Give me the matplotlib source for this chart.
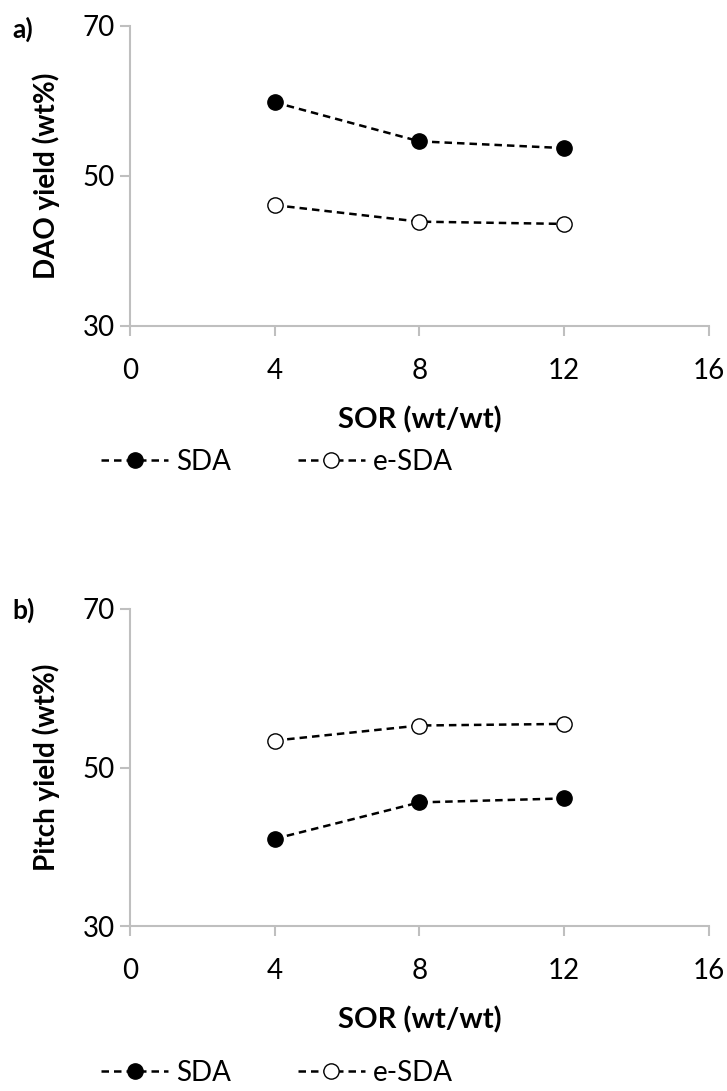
import numpy as np
import matplotlib.pyplot as plt
from matplotlib.lines import Line2D

plt.rcParams['font.family'] = ['Lato', 'DejaVu Sans']

sor = [4, 8, 12]
dao_sda = [59.8, 54.6, 53.7]
dao_esda = [46.1, 43.9, 43.6]
pitch_sda = [41.0, 45.6, 46.1]
pitch_esda = [53.4, 55.3, 55.5]

xticks = [0, 4, 8, 12, 16]
yticks = [30, 50, 70]

fig = plt.figure(figsize=(7.27, 10.91), dpi=100)
ax1 = fig.add_axes([0.1788, 0.7012, 0.7962, 0.2752])
ax2 = fig.add_axes([0.1788, 0.1512, 0.7962, 0.2906])

grey = '#BFBFBF'
dash = (0, (3, 2))


def style(ax, ylabel):
    ax.set_xlim(0, 16)
    ax.set_ylim(30, 70)
    ax.set_xticks(xticks)
    ax.set_yticks(yticks)
    for s in ['top', 'right']:
        ax.spines[s].set_visible(False)
    for s in ['left', 'bottom']:
        ax.spines[s].set_color(grey)
        ax.spines[s].set_linewidth(1.5)
    ax.tick_params(colors=grey, width=1.5, length=7, labelsize=20,
                   labelcolor='black')
    ax.tick_params(axis='x', pad=16)
    ax.tick_params(axis='y', pad=4)
    ax.set_ylabel(ylabel, fontsize=20, fontweight='bold', labelpad=16)
    ax.set_xlabel('SOR (wt/wt)', fontsize=21, fontweight='bold', labelpad=16)


def draw(ax, sda, esda):
    ax.plot(sor, sda, color='black', ls=dash, lw=1.8, marker='o',
            ms=11, mfc='black', mec='black', clip_on=False)
    ax.plot(sor, esda, color='black', ls=dash, lw=1.8, marker='o',
            ms=11, mfc='white', mec='black', mew=1.0, clip_on=False)


draw(ax1, dao_sda, dao_esda)
draw(ax2, pitch_sda, pitch_esda)
style(ax1, 'DAO yield (wt%)')
style(ax2, 'Pitch yield (wt%)')

handles = [
    Line2D([], [], color='black', ls=dash, lw=1.8, marker='o', ms=11,
           mfc='black', mec='black'),
    Line2D([], [], color='black', ls=dash, lw=1.8, marker='o', ms=11,
           mfc='white', mec='black', mew=1.0),
]
for y in [0.5765, 0.0165]:
    fig.legend(handles, ['SDA', 'e-SDA'], loc='center left',
               bbox_to_anchor=(0.105, y), ncol=2, frameon=False, fontsize=20,
               handlelength=2.4, columnspacing=2.4, handletextpad=0.3)

fig.text(0.017, 0.985, 'a)', fontsize=19, fontweight='bold', va='top')
fig.text(0.017, 0.452, 'b)', fontsize=19, fontweight='bold', va='top')

fig.savefig('out.png', dpi=100)
